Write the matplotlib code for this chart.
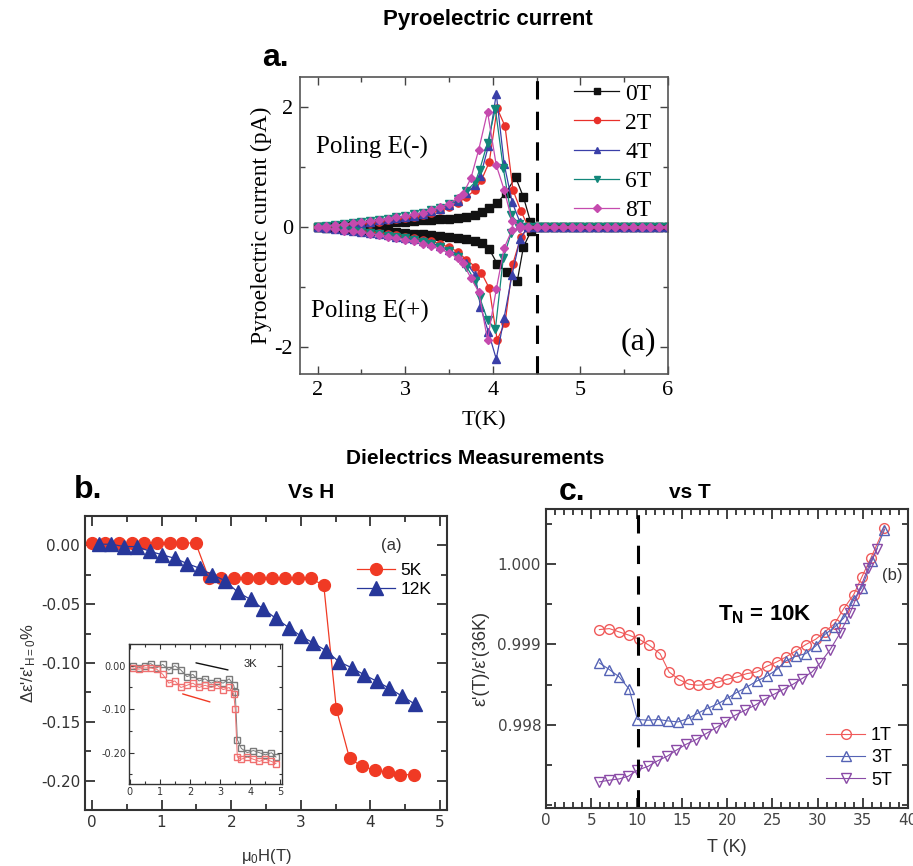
import matplotlib
matplotlib.use("Agg")
import matplotlib.pyplot as plt
from matplotlib.ticker import MultipleLocator, FixedLocator, FormatStrFormatter

plt.rcParams['axes.unicode_minus'] = False
plt.rcParams['mathtext.fontset'] = 'custom'
plt.rcParams['mathtext.rm'] = 'Liberation Sans'
plt.rcParams['mathtext.it'] = 'Liberation Sans:italic'
plt.rcParams['mathtext.bf'] = 'Liberation Sans:bold'

SERIF = 'Liberation Serif'
SANS = 'Liberation Sans'

# ---------------- panel a: pyroelectric current ----------------
low_T = [2.0, 2.1, 2.2, 2.3, 2.4, 2.5, 2.6, 2.7, 2.8, 2.9, 3.0, 3.1, 3.2, 3.3, 3.4, 3.5, 3.6, 3.7, 3.8]
tail_T = [4.5, 4.6, 4.7, 4.8, 4.9, 5.0, 5.1, 5.2, 5.3, 5.4, 5.5, 5.6, 5.7, 5.8, 5.9, 6.0]
tail_I = [0.0, 0.0, 0.0, 0.0, 0.0, 0.0, 0.0, 0.0, 0.0, 0.0, 0.0, 0.0, 0.0, 0.0, 0.0, 0.0]

T_0T = low_T + [3.88, 3.96, 4.05, 4.15, 4.26, 4.35, 4.43]
pos_0T = [0.0, 0.0, 0.01, 0.02, 0.03, 0.04, 0.05, 0.06, 0.07, 0.08, 0.09, 0.10, 0.11, 0.12, 0.13, 0.14, 0.15, 0.17, 0.20,
          0.25, 0.31, 0.40, 0.57, 0.83, 0.50, 0.09]
neg_0T = [0.0, -0.01, -0.02, -0.03, -0.04, -0.05, -0.06, -0.07, -0.08, -0.09, -0.10, -0.11, -0.12, -0.13, -0.15, -0.16,
          -0.18, -0.20, -0.23, -0.27, -0.37, -0.61, -0.75, -0.90, -0.33, -0.06]
T_0T_neg = low_T + [3.88, 3.96, 4.05, 4.16, 4.28, 4.35, 4.44]

T_2T = low_T + [3.87, 3.96, 4.05, 4.14, 4.23, 4.32, 4.40]
pos_2T = [0.0, 0.01, 0.02, 0.03, 0.05, 0.06, 0.07, 0.09, 0.11, 0.13, 0.15, 0.17, 0.20, 0.24, 0.28, 0.33, 0.40, 0.50, 0.62,
          0.78, 1.08, 1.98, 1.68, 0.62, 0.27, 0.02]
neg_2T = [0.0, -0.01, -0.02, -0.03, -0.05, -0.06, -0.08, -0.10, -0.12, -0.14, -0.16, -0.18, -0.21, -0.24, -0.28, -0.34,
          -0.41, -0.55, -0.66, -0.76, -1.02, -1.88, -1.60, -0.61, -0.17, -0.02]

T_4T = low_T + [3.86, 3.95, 4.04, 4.13, 4.22, 4.31, 4.40]
pos_4T = [0.0, 0.02, 0.03, 0.04, 0.06, 0.07, 0.09, 0.11, 0.13, 0.15, 0.17, 0.19, 0.22, 0.26, 0.30, 0.36, 0.44, 0.56, 0.70,
          0.85, 1.35, 2.22, 1.05, 0.42, 0.08, 0.0]
neg_4T = [0.0, -0.02, -0.03, -0.05, -0.06, -0.08, -0.10, -0.12, -0.14, -0.16, -0.18, -0.20, -0.23, -0.27, -0.32, -0.38,
          -0.46, -0.60, -0.80, -1.33, -1.75, -2.20, -1.51, -0.80, -0.20, 0.0]

T_6T = low_T + [3.85, 3.94, 4.03, 4.12, 4.21, 4.30, 4.40]
pos_6T = [0.0, 0.02, 0.03, 0.05, 0.06, 0.08, 0.10, 0.12, 0.14, 0.16, 0.18, 0.21, 0.24, 0.28, 0.32, 0.38, 0.47, 0.60, 0.75,
          0.95, 1.40, 1.97, 0.98, 0.20, 0.05, 0.0]
neg_6T = [0.0, -0.02, -0.04, -0.05, -0.07, -0.08, -0.10, -0.12, -0.15, -0.17, -0.19, -0.22, -0.25, -0.29, -0.34, -0.40,
          -0.50, -0.66, -0.90, -1.17, -1.55, -1.70, -0.52, -0.10, -0.02, 0.0]

T_8T = [2.0, 2.1, 2.2, 2.3, 2.4, 2.5, 2.6, 2.7, 2.8, 2.9, 3.0, 3.1, 3.2, 3.3, 3.4, 3.5, 3.6,
        3.66, 3.75, 3.84, 3.94, 4.04, 4.13, 4.22, 4.31, 4.40]
pos_8T = [0.0, 0.02, 0.03, 0.05, 0.06, 0.08, 0.10, 0.12, 0.14, 0.16, 0.18, 0.21, 0.24, 0.28, 0.33, 0.39, 0.48,
          0.55, 0.81, 1.29, 1.92, 1.03, 0.62, 0.10, 0.02, 0.0]
neg_8T = [0.0, -0.02, -0.04, -0.06, -0.07, -0.09, -0.11, -0.13, -0.16, -0.18, -0.21, -0.24, -0.28, -0.32, -0.37, -0.43,
          -0.52, -0.60, -0.85, -1.08, -1.88, -1.04, -0.35, -0.05, -0.01, 0.0]

fields_a = ['0T', '2T', '4T', '6T', '8T']
colors_a = ['#111111', '#E8302A', '#3A3FA8', '#12877A', '#C54AAE']
markers_a = ['s', 'o', '^', 'v', 'D']

# ---------------- panel b: dielectric vs H ----------------
H_5K = [0.0, 0.19, 0.39, 0.57, 0.75, 0.94, 1.12, 1.30, 1.49, 1.68, 1.86, 2.04, 2.22, 2.40, 2.59, 2.77, 2.96, 3.14,
        3.33, 3.51, 3.70, 3.88, 4.07, 4.25, 4.43, 4.62]
eps_5K = [0.002, 0.002, 0.002, 0.002, 0.002, 0.002, 0.002, 0.002, 0.002, -0.028, -0.028, -0.028, -0.028, -0.028,
          -0.028, -0.028, -0.028, -0.028, -0.034, -0.139, -0.181, -0.188, -0.191, -0.193, -0.195, -0.195]
H_12K = [0.10, 0.28, 0.46, 0.65, 0.83, 1.01, 1.19, 1.37, 1.55, 1.73, 1.91, 2.10, 2.28, 2.46, 2.64, 2.83, 3.00, 3.18,
         3.36, 3.55, 3.73, 3.91, 4.09, 4.27, 4.45, 4.64]
eps_12K = [0.001, 0.001, -0.001, -0.001, -0.005, -0.008, -0.011, -0.0155, -0.0195, -0.025, -0.030, -0.040, -0.046,
           -0.054, -0.062, -0.070, -0.077, -0.083, -0.0895, -0.099, -0.104, -0.110, -0.1155, -0.1215, -0.128, -0.135]

# inset, 3K up/down sweeps
H_in = [0.1, 0.3, 0.5, 0.7, 0.9, 1.1, 1.3, 1.5, 1.7, 1.9, 2.1, 2.3, 2.5, 2.7, 2.9, 3.1, 3.3, 3.45, 3.5, 3.57,
        3.7, 3.9, 4.1, 4.3, 4.5, 4.7, 4.85]
eps_in_up = [0.0, -0.005, 0.0, 0.005, -0.005, 0.003, -0.01, 0.0, -0.01, -0.025, -0.02, -0.035, -0.03, -0.04, -0.035,
             -0.04, -0.03, -0.045, -0.06, -0.17, -0.19, -0.20, -0.195, -0.20, -0.205, -0.20, -0.21]
eps_in_down = [-0.005, -0.008, -0.005, -0.005, -0.008, -0.02, -0.04, -0.035, -0.05, -0.045, -0.04, -0.05, -0.045,
               -0.05, -0.045, -0.055, -0.05, -0.065, -0.10, -0.21, -0.215, -0.21, -0.215, -0.22, -0.215, -0.22, -0.225]
arrow_up = [(2.11, 0.008), (3.35, -0.011)]
arrow_down = [(1.67, -0.063), (2.75, -0.085)]

# ---------------- panel c: dielectric vs T ----------------
T_1T = [5.9, 7.0, 8.1, 9.2, 10.3, 11.4, 12.6, 13.6, 14.7, 15.8, 16.8, 17.9, 19.0, 20.0, 21.1, 22.2, 23.3, 24.4, 25.5,
        26.5, 27.6, 28.7, 29.8, 30.8, 31.9, 32.9, 34.0, 34.9, 35.9, 37.4]
r_1T = [0.999186, 0.999198, 0.999156, 0.999115, 0.999065, 0.998990, 0.998886, 0.998657, 0.998562, 0.998504, 0.998491,
        0.998504, 0.998533, 0.998566, 0.998595, 0.998637, 0.998657, 0.998728, 0.998782, 0.998844, 0.998919, 0.998999,
        0.999065, 0.999156, 0.999261, 0.999448, 0.999622, 0.999842, 1.000079, 1.000458]
T_3T = [5.9, 7.0, 8.1, 9.2, 10.1, 11.3, 12.4, 13.5, 14.6, 15.7, 16.7, 17.8, 18.9, 20.0, 21.0, 22.1, 23.3, 24.4, 25.5,
        26.5, 27.6, 28.7, 29.8, 30.8, 31.9, 32.9, 34.0, 34.9, 36.0, 37.4]
r_3T = [0.998770, 0.998687, 0.998595, 0.998441, 0.998064, 0.998055, 0.998064, 0.998046, 0.998034, 0.998076, 0.998138,
        0.998201, 0.998254, 0.998325, 0.998396, 0.998463, 0.998544, 0.998603, 0.998687, 0.998795, 0.998853, 0.998886,
        0.998981, 0.999123, 0.999218, 0.999330, 0.999560, 0.999710, 1.000040, 1.000433]
T_5T = [5.9, 7.0, 8.1, 9.1, 10.1, 11.3, 12.3, 13.4, 14.4, 15.5, 16.6, 17.7, 18.8, 19.8, 20.9, 22.0, 23.1, 24.1, 25.2,
        26.2, 27.3, 28.3, 29.4, 30.3, 31.4, 32.5, 33.6, 34.7, 35.6, 36.6]
r_5T = [0.997286, 0.997307, 0.997323, 0.997357, 0.997431, 0.997481, 0.997547, 0.997606, 0.997681, 0.997756, 0.997814,
        0.997889, 0.997963, 0.998034, 0.998117, 0.998180, 0.998242, 0.998313, 0.998379, 0.998438, 0.998504, 0.998575,
        0.998657, 0.998769, 0.998936, 0.999143, 0.999393, 0.999697, 0.999958, 1.000196]
yticks_c = [0.998, 0.999, 1.000]

W, H = 913, 866
fig = plt.figure(figsize=(W / 100, H / 100), dpi=100)


def px_axes(left, top, right, bottom):
    return fig.add_axes([left / W, 1 - bottom / H, (right - left) / W, (bottom - top) / H])


# ================= panel a =================
ax = px_axes(300, 77, 668, 374)
series_a = [(T_0T, pos_0T, T_0T_neg, neg_0T), (T_2T, pos_2T, T_2T, neg_2T), (T_4T, pos_4T, T_4T, neg_4T),
            (T_6T, pos_6T, T_6T, neg_6T), (T_8T, pos_8T, T_8T, neg_8T)]
for (tp, ip, tn, inn), lab, c, m in zip(series_a, fields_a, colors_a, markers_a):
    ms = 4.4 if m == 'D' else 5.2
    kw = dict(color=c, marker=m, ms=ms, lw=0.9, mec=c, mfc=c)
    ax.plot(tp + tail_T, ip + tail_I, label=lab, **kw)
    ax.plot(tn + tail_T, inn + tail_I, **kw)
ax.axvline(4.5, color='black', lw=2.2, dashes=(6, 4))
ax.set_xlim(1.8, 6.0)
ax.set_ylim(-2.45, 2.5)
ax.xaxis.set_major_locator(MultipleLocator(1))
ax.xaxis.set_minor_locator(MultipleLocator(0.5))
ax.yaxis.set_major_locator(MultipleLocator(2))
ax.yaxis.set_minor_locator(MultipleLocator(1))
ax.tick_params(which='both', direction='in', top=True, right=True, color='#444444')
ax.tick_params(which='major', length=6, width=1.0, labelsize=16, pad=5)
ax.tick_params(which='minor', length=3.5, width=1.0)
for lbl in ax.get_xticklabels() + ax.get_yticklabels():
    lbl.set_fontfamily(SERIF)
for s in ax.spines.values():
    s.set_color('#555555')
    s.set_linewidth(1.2)
ax.set_xlabel('T(K)', fontfamily=SERIF, fontsize=16, labelpad=8)
ax.set_ylabel('Pyroelectric current (pA)', fontfamily=SERIF, fontsize=17, labelpad=2)
ax.text(1.98, 1.33, 'Poling E(-)', fontfamily=SERIF, fontsize=18, va='center')
ax.text(1.92, -1.40, 'Poling E(+)', fontfamily=SERIF, fontsize=18, va='center')
ax.text(5.66, -1.92, '(a)', fontfamily=SERIF, fontsize=23, ha='center', va='center')
ax.legend(loc='upper right', bbox_to_anchor=(1.0, 1.035), frameon=False, handlelength=1.9, handletextpad=0.25,
          labelspacing=0.32, borderaxespad=0.3, markerscale=0.85, prop={'family': SERIF, 'size': 17})

# ================= panel b =================
axb = px_axes(85, 516, 447, 810)
axb.plot(H_5K, eps_5K, color='#F03A24', marker='o', ms=8.5, lw=0.9, label='5K')
axb.plot(H_12K, eps_12K, color='#27379A', marker='^', ms=9.5, lw=0.9, label='12K')
axb.set_xlim(-0.1, 5.1)
axb.set_ylim(-0.225, 0.025)
axb.xaxis.set_major_locator(MultipleLocator(1))
axb.xaxis.set_minor_locator(MultipleLocator(0.5))
axb.yaxis.set_major_locator(MultipleLocator(0.05))
axb.yaxis.set_minor_locator(MultipleLocator(0.025))
axb.yaxis.set_major_formatter(FormatStrFormatter('%.2f'))
axb.tick_params(which='both', direction='in', top=True, right=True, color='#333333',
                labelcolor='#333333', width=1.3)
axb.tick_params(which='major', length=7, labelsize=11)
axb.tick_params(which='minor', length=4)
for s in axb.spines.values():
    s.set_color('#333333')
    s.set_linewidth(1.5)
axb.set_xlabel('\u03bc$_0$H(T)', fontfamily=SANS, fontsize=12, color='#333333', labelpad=12)
axb.set_ylabel("\u0394\u03b5'/\u03b5'$_{\\mathrm{H=0}}$%", fontfamily=SANS, fontsize=12, color='#333333',
               labelpad=2)
axb.text(4.3, 0.0, '(a)', fontfamily=SANS, fontsize=12, color='#333333', ha='center', va='center')
axb.legend(loc='upper right', bbox_to_anchor=(1.0, 0.895), frameon=False, handlelength=2.2, handletextpad=0.3,
           labelspacing=0.25, prop={'family': SANS, 'size': 12.5})

# inset
axi = px_axes(129, 644, 282, 784)
axi.plot(H_in, eps_in_up, color='#7A7A7A', marker='s', ms=4.3, mfc='none', lw=0.7)
axi.plot(H_in, eps_in_down, color='#F07070', marker='s', ms=4.3, mfc='none', lw=0.7)
axi.annotate('', xy=arrow_up[1], xytext=arrow_up[0],
             arrowprops=dict(arrowstyle='-', color='#111111', lw=1.0))
axi.annotate('', xy=arrow_down[1], xytext=arrow_down[0],
             arrowprops=dict(arrowstyle='-', color='#F03A24', lw=1.0))
axi.text(4.0, 0.005, '3K', fontfamily=SANS, fontsize=8, color='#222222', ha='center', va='center')
axi.set_xlim(-0.02, 5.05)
axi.set_ylim(-0.272, 0.05)
axi.xaxis.set_major_locator(MultipleLocator(1))
axi.xaxis.set_minor_locator(MultipleLocator(0.5))
axi.yaxis.set_major_locator(MultipleLocator(0.1))
axi.yaxis.set_minor_locator(MultipleLocator(0.05))
axi.yaxis.set_major_formatter(FormatStrFormatter('%.2f'))
axi.tick_params(which='both', direction='in', top=True, right=True, color='#333333',
                labelcolor='#333333', width=0.8, labelsize=7, pad=2)
axi.tick_params(which='major', length=3.5)
axi.tick_params(which='minor', length=2)
for s in axi.spines.values():
    s.set_color('#333333')
    s.set_linewidth(1.0)

# ================= panel c =================
axc = px_axes(546, 509, 908, 808)
axc.plot(T_1T, r_1T, color='#F05A5A', marker='o', ms=7, mfc='none', mew=1.0, lw=0.8, label='1T')
axc.plot(T_3T, r_3T, color='#5563B5', marker='^', ms=7.5, mfc='none', mew=1.0, lw=0.8, label='3T')
axc.plot(T_5T, r_5T, color='#8A4AA6', marker='v', ms=7.5, mfc='none', mew=1.0, lw=0.8, label='5T')
axc.axvline(10.2, color='black', lw=2.2, dashes=(6, 4))
axc.set_xlim(0, 40)
axc.set_ylim(0.99696, 1.00069)
axc.xaxis.set_major_locator(MultipleLocator(5))
axc.xaxis.set_minor_locator(MultipleLocator(1))
axc.yaxis.set_major_locator(FixedLocator(yticks_c))
axc.yaxis.set_minor_locator(MultipleLocator(0.0005))
axc.yaxis.set_major_formatter(FormatStrFormatter('%.3f'))
axc.tick_params(which='both', direction='in', top=True, right=True, color='#333333',
                labelcolor='#444444', width=1.3)
axc.tick_params(which='major', length=7, labelsize=11)
axc.tick_params(which='minor', length=4)
for s in axc.spines.values():
    s.set_color('#333333')
    s.set_linewidth(1.5)
axc.set_xlabel('T (K)', fontfamily=SANS, fontsize=13, color='#333333', labelpad=8)
axc.set_ylabel("\u03b5'(T)/\u03b5'(36K)", fontfamily=SANS, fontsize=13, color='#333333', labelpad=6)
axc.text(24.2, 0.99937, 'T$_{\\mathbf{N}}$ = 10K', fontfamily=SANS, fontsize=16, fontweight='bold',
         ha='center', va='center')
axc.text(38.3, 0.999863, '(b)', fontfamily=SANS, fontsize=12, color='#333333', ha='center', va='center')
axc.legend(loc='lower right', bbox_to_anchor=(1.0, 0.01), frameon=False, handlelength=2.2, handletextpad=0.3,
           labelspacing=0.3, prop={'family': SANS, 'size': 13})

# ================= headings =================
fig.text(488 / W, 1 - 20 / H, 'Pyroelectric current', fontfamily=SANS, fontweight='bold', fontsize=16,
         ha='center', va='center')
fig.text(275 / W, 1 - 58 / H, 'a.', fontfamily=SANS, fontweight='bold', fontsize=23, ha='center', va='center')
fig.text(475 / W, 1 - 459 / H, 'Dielectrics Measurements', fontfamily=SANS, fontweight='bold', fontsize=15,
         ha='center', va='center')
fig.text(88 / W, 1 - 490 / H, 'b.', fontfamily=SANS, fontweight='bold', fontsize=23, ha='center', va='center')
fig.text(311 / W, 1 - 492 / H, 'Vs H', fontfamily=SANS, fontweight='bold', fontsize=15, ha='center', va='center')
fig.text(572 / W, 1 - 492 / H, 'c.', fontfamily=SANS, fontweight='bold', fontsize=23, ha='center', va='center')
fig.text(690 / W, 1 - 492 / H, 'vs T', fontfamily=SANS, fontweight='bold', fontsize=15, ha='center', va='center')

fig.savefig('out.png', dpi=100)
